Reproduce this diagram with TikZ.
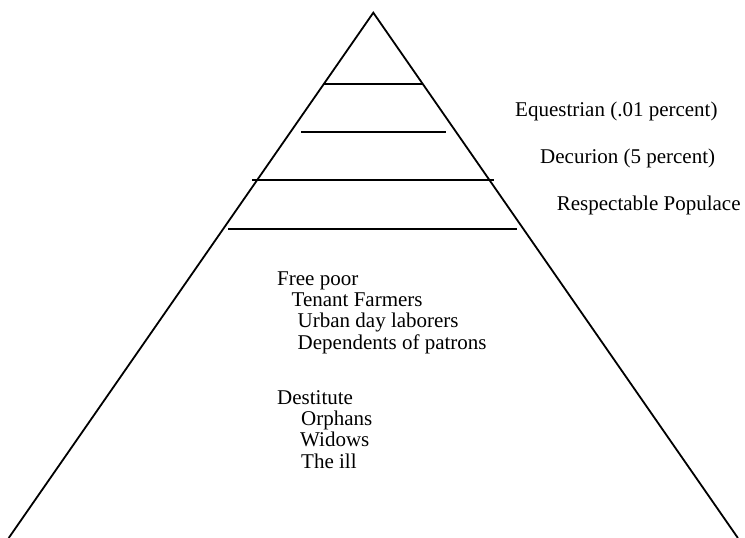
\documentclass[tikz,border=0pt]{standalone}
\usepackage{fontspec}
\setmainfont{Liberation Serif}
\begin{document}
\begin{tikzpicture}[x=1pt,y=-1pt,
  edge/.style={line width=1.8pt,line cap=butt},
  lbl/.style={anchor=base west,inner sep=0pt,font=\fontsize{21}{21}\selectfont}]
\useasboundingbox (0,0) rectangle (745,538);
% triangle
\coordinate (apex) at (373.3,12.7);
\coordinate (bl) at (8.7,538);
\coordinate (br) at (737.9,538);
\draw[edge,line join=miter] (bl) -- (apex) -- (br);
% tier lines
\coordinate (l1a) at (324,84); \coordinate (l1b) at (422.8,84);
\coordinate (l2a) at (301,132.3);  \coordinate (l2b) at (446,132.3);
\coordinate (l3a) at (252.3,180.3); \coordinate (l3b) at (494,180.3);
\coordinate (l4a) at (228.3,228.7); \coordinate (l4b) at (516.7,228.7);
\draw[edge] (l1a) -- (l1b);
\draw[edge] (l2a) -- (l2b);
\draw[edge] (l3a) -- (l3b);
\draw[edge] (l4a) -- (l4b);
% right labels
\node[lbl] (eq) at (515,116) {Equestrian (.01 percent)};
\node[lbl] (dec) at (540,163) {Decurion (5 percent)};
\node[lbl] (resp) at (556.7,210) {Respectable Populace};
% lower lists
\node[lbl] (fp) at (277,285) {Free poor};
\node[lbl] (tf) at (291.5,306.3) {Tenant Farmers};
\node[lbl] (ud) at (297.5,327.6) {Urban day laborers};
\node[lbl] (dp) at (297.5,349) {Dependents of patrons};
\node[lbl] (de) at (277,404) {Destitute};
\node[lbl] (or) at (301,425.3) {Orphans};
\node[lbl] (wi) at (300,446.6) {Widows};
\node[lbl] (ti) at (301,468) {The ill};
\end{tikzpicture}
\end{document}
